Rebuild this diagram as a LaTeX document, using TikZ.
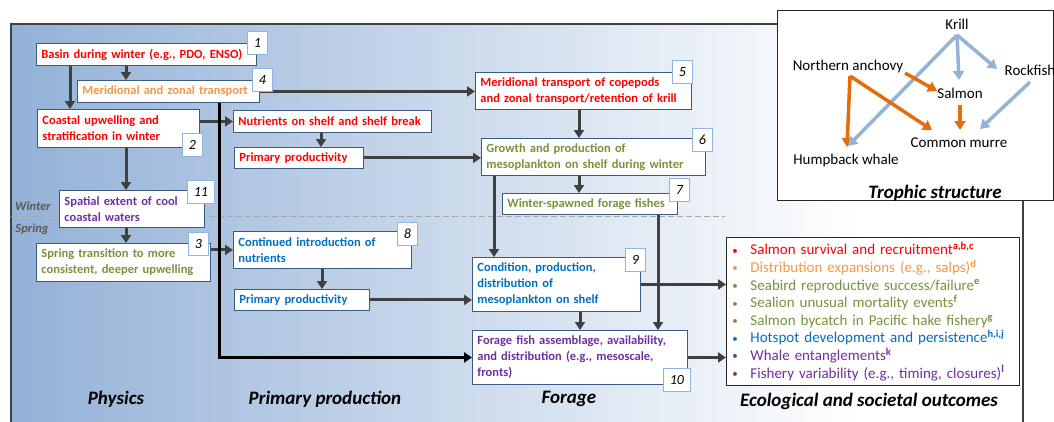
\documentclass[tikz,border=0pt]{standalone}
\usepackage{fontspec}
\setmainfont{Carlito}
\usetikzlibrary{arrows.meta,calc}
\definecolor{cred}{HTML}{FF0000}
\definecolor{corange}{HTML}{F79646}
\definecolor{cgreen}{HTML}{77933C}
\definecolor{cblue}{HTML}{0070C0}
\definecolor{cpurple}{HTML}{7030A0}
\definecolor{boxline}{HTML}{3B5A82}
\definecolor{tagline}{HTML}{8EB4E3}
\definecolor{arrgray}{HTML}{404040}
\definecolor{panelc}{HTML}{93B1D7}
\definecolor{trblue}{HTML}{95B3D7}
\definecolor{trorange}{HTML}{E46C0A}
\definecolor{seasonc}{HTML}{595959}
\pgfdeclarehorizontalshading{panelsh}{100bp}{color(0bp)=(panelc); color(25bp)=(panelc); color(67bp)=(white); color(100bp)=(white)}
\newcommand\obul{\makebox[18pt][l]{\raisebox{0.5pt}{\fontsize{11}{11}\selectfont\textbullet}}}
\newcommand\osup[1]{\textsuperscript{\bfseries #1}}
\newcommand\oneline[1]{\mbox{#1}}
\begin{document}
\begin{tikzpicture}[x=1pt,y=-1pt,
  flowbox/.style={draw=boxline, line width=0.9pt, fill=white, anchor=north west, align=left,
    inner xsep=5pt, inner ysep=1pt, font=\bfseries\fontsize{12.5}{16}\selectfont},
  tagbox/.style={draw=tagline, line width=0.9pt, fill=white, anchor=north west,
    minimum width=20pt, minimum height=23pt, inner sep=0pt, font=\itshape\fontsize{14}{16}\selectfont},
  arr/.style={draw=arrgray, line width=3pt, -{Triangle[length=8pt,width=10pt]}},
  blk/.style={draw=black, line width=3pt, -{Triangle[length=8pt,width=10pt]}},
  season/.style={font=\bfseries\itshape\fontsize{12.5}{14}\selectfont, text=seasonc, inner sep=0pt},
  lab/.style={font=\bfseries\itshape\fontsize{19}{22}\selectfont, inner sep=0pt},
  tl/.style={font=\fontsize{15}{17}\selectfont, inner sep=0pt},
  tarrB/.style={draw=trblue, line width=3.5pt, -{Triangle[length=9pt,width=11pt]}},
  tarrO/.style={draw=trorange, line width=3.5pt, -{Triangle[length=9pt,width=11pt]}}
]
\useasboundingbox (0,0) rectangle (1054,421);
% panel
\path[shading=panelsh] (11,24) rectangle (1023,430);
\draw[arrgray, line width=1.5pt] (11,430) -- (11,24) -- (1023,24) -- (1023,430);
\draw[gray!70, line width=0.8pt, dash pattern=on 6pt off 3pt] (11,216) -- (725,216);
\node[season] (winter) at (33,206) {Winter};
\node[season] (spring) at (32,229) {Spring};

% boxes
\node[flowbox, minimum width=220pt, minimum height=22pt, text width=210pt, text=cred] (b1) at (36,43) {\oneline{Basin during winter (e.g., PDO, ENSO)}};
\node[flowbox, minimum width=182pt, minimum height=22pt, text width=172pt, text=corange] (b4) at (77,80) {\oneline{Meridional and zonal transport}};
\node[flowbox, minimum width=162pt, minimum height=38pt, text width=152pt, text=cred] (b2) at (37,109) {\oneline{Coastal upwelling and}\\\oneline{stratification in winter}};
\node[flowbox, minimum width=145pt, minimum height=37pt, text width=135pt, text=cpurple] (b11) at (59,190) {\oneline{Spatial extent of cool}\\\oneline{coastal waters}};
\node[flowbox, minimum width=174pt, minimum height=38pt, text width=164pt, text=cgreen] (b3) at (36,243) {\oneline{Spring transition to more}\\\oneline{consistent, deeper upwelling}};
\node[flowbox, minimum width=198pt, minimum height=22pt, text width=188pt, text=cred] (bN) at (233,110) {\oneline{Nutrients on shelf and shelf break}};
\node[flowbox, minimum width=129pt, minimum height=21pt, text width=119pt, text=cred] (bPr) at (234,147) {\oneline{Primary productivity}};
\node[flowbox, minimum width=178pt, minimum height=37pt, text width=168pt, text=cblue] (bCI) at (233,231) {\oneline{Continued introduction of}\\\oneline{nutrients}};
\node[flowbox, minimum width=135pt, minimum height=21pt, text width=125pt, text=cblue] (bPb) at (234,289) {\oneline{Primary productivity}};
\node[flowbox, minimum width=216pt, minimum height=37pt, text width=206pt, text=cred] (b5) at (475,72) {\oneline{Meridional transport of copepods}\\\oneline{and zonal transport/retention of krill}};
\node[flowbox, minimum width=224pt, minimum height=37pt, text width=214pt, text=cgreen] (b6) at (481,138) {\oneline{Growth and production of}\\\oneline{mesoplankton on shelf during winter}};
\node[flowbox, minimum width=175pt, minimum height=21pt, text width=165pt, text=cgreen] (b7) at (502,193) {\oneline{Winter-spawned forage fishes}};
\node[flowbox, minimum width=168pt, minimum height=54pt, text width=158pt, text=cblue] (b9) at (472,257) {\oneline{Condition, production,}\\\oneline{distribution of}\\\oneline{mesoplankton on shelf}};
\node[flowbox, minimum width=215pt, minimum height=54pt, text width=205pt, text=cpurple] (b10) at (472,330) {\oneline{Forage fish assemblage, availability,}\\\oneline{and distribution (e.g., mesoscale,}\\\oneline{fronts)}};

% outcomes
\node[draw=black!85, line width=0.9pt, fill=white, anchor=north west, minimum width=293pt, minimum height=148pt,
  text width=281pt, inner xsep=6pt, inner ysep=0pt, align=left, font=\fontsize{15}{17.6}\selectfont] (out) at (726,237) {%
\textcolor{cred}{\obul Salmon survival and recruitment\osup{a,b,c}}\\
\textcolor{corange}{\obul Distribution expansions (e.g., salps)\osup{d}}\\
\textcolor{cgreen}{\obul Seabird reproductive success/failure\osup{e}}\\
\textcolor{cgreen}{\obul Sealion unusual mortality events\osup{f}}\\
\textcolor{cgreen}{\obul Salmon bycatch in Pacific hake fishery\osup{g}}\\
\textcolor{cblue}{\obul Hotspot development and persistence\osup{h,i,j}}\\
\textcolor{cpurple}{\obul Whale entanglements\osup{k}}\\
\textcolor{cpurple}{\obul Fishery variability (e.g., timing, closures)\osup{l}}};

% connectors
\draw[arr] (b1.south -| 70,0) -- (b2.north -| 70,0);
\draw[arr] (b1.south -| 126,0) -- (b4.north -| 126,0);
\draw[arr] (b2.south -| 126,0) -- (b11.north -| 126,0);
\draw[arr] (b11.south -| 126,0) -- (b3.north -| 126,0);
\draw[arr] (b2.east |- bN.west) -- (bN.west);
\draw[arr] (b3.east |- bCI.west) -- (bCI.west);
\draw[arr] (bN.south -| 321,0) -- (bPr.north -| 321,0);
\draw[arr] (bCI.south -| 322,0) -- (bPb.north -| 322,0);
\draw[arr] (bPr.east) -- (b6.west |- bPr.east);
\draw[arr] (bPb.east) -- (b9.west |- bPb.east);
\draw[arr] (b4.east) -- (b5.west |- b4.east);
\draw[arr] (b5.south -| 579,0) -- (b6.north -| 579,0);
\draw[arr] (b6.south -| 579,0) -- (b7.north -| 579,0);
\draw[arr] (b6.south -| 494,0) -- (b9.north -| 494,0);
\draw[arr] (b7.south -| 658,0) -- (b10.north -| 658,0);
\draw[arr] (b9.south -| 580,0) -- (b10.north -| 580,0);
\draw[arr] (b9.east) -- (out.west |- b9.east);
\draw[arr] (b10.east) -- (out.west |- b10.east);
\draw[blk] (b4.south -| 219,0) |- (b10.west);

% tags
\node[tagbox] (t1) at (247,31) {1};
\node[tagbox] (t4) at (252,68) {4};
\node[tagbox] (t2) at (182,133) {2};
\node[tagbox, minimum width=27pt] (t11) at (187,180) {11};
\node[tagbox] (t3) at (188,232) {3};
\node[tagbox] (t8) at (397,222) {8};
\node[tagbox] (t5) at (672,60) {5};
\node[tagbox] (t6) at (692,128) {6};
\node[tagbox] (t7) at (669,178) {7};
\node[tagbox] (t9) at (625,248) {9};
\node[tagbox, minimum width=27pt] (t10) at (663,368) {10};

% column labels
\node[lab] (lphys) at (116,399) {Physics};
\node[lab] (lprim) at (325,399) {Primary production};
\node[lab] (lforage) at (569,399) {Forage};
\node[lab] (leco) at (869,401) {Ecological and societal outcomes};

% trophic inset
\draw[black!85, line width=0.9pt, fill=white] (777,10) rectangle (1053,200);
\node[tl] (krill) at (957,24) {Krill};
\node[tl] (anch) at (848,66) {Northern anchovy};
\node[tl] (rock) at (1030,70) {Rockfish};
\node[tl] (salm) at (960,93) {Salmon};
\node[tl] (murre) at (959,143) {Common murre};
\node[tl] (hump) at (846,160) {Humpback whale};
\node[lab] (ltroph) at (935,193) {Trophic structure};
\coordinate (krillO) at (957,35);
\coordinate (anchO) at (850,76);
\coordinate (anchR) at (905,73);
\coordinate (rockO) at (1030,82);
\coordinate (salmI) at (959,80);
\coordinate (salmO) at (960,105);
\coordinate (rockI) at (997,69);
\coordinate (humpI1) at (848,146);
\coordinate (humpI2) at (847,147);
\coordinate (murreI1) at (932,130);
\coordinate (murreI2) at (960,130);
\coordinate (murreI3) at (980,129);
\coordinate (salmI2) at (937,91);
\draw[tarrO] (anchO) -- (humpI2);
\draw[tarrB] (krillO) -- (humpI1);
\draw[tarrB] (krillO) -- (salmI);
\draw[tarrB] (krillO) -- (rockI);
\draw[tarrB] (rockO) -- (murreI3);
\draw[tarrO] (anchR) -- (salmI2);
\draw[tarrO] (anchO) -- (murreI1);
\draw[tarrO] (salmO) -- (murreI2);
\end{tikzpicture}
\end{document}
